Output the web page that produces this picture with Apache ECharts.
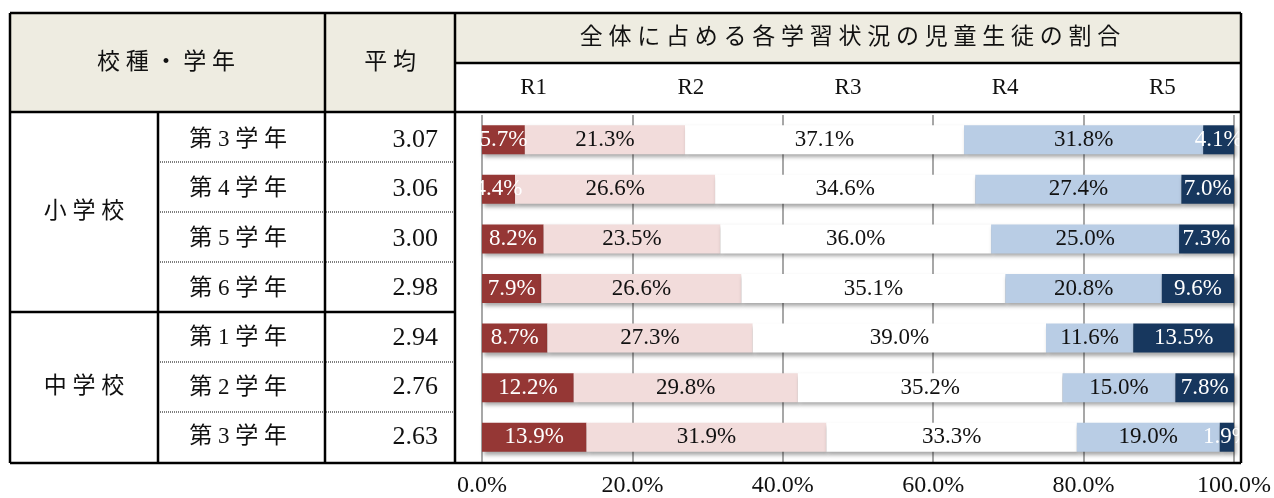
<!DOCTYPE html>
<html>
<head>
<meta charset="utf-8">
<script src="https://cdn.jsdelivr.net/npm/echarts@6/dist/echarts.min.js"></script>
<style>
html, body { margin: 0; padding: 0; background: #fff; }
#chart { width: 1274px; height: 498px; }
</style>
</head>
<body>
<div id="chart"></div>
<script>
// rows of the table, top to bottom
var grades = ['第3学年', '第4学年', '第5学年', '第6学年', '第1学年', '第2学年', '第3学年'];
var averages = [3.07, 3.06, 3.00, 2.98, 2.94, 2.76, 2.63];
var schools = ['小学校', '中学校'];
var schoolRows = [4, 3];
var levels = ['R1', 'R2', 'R3', 'R4', 'R5'];

// share of each level (%)
var r1 = [5.7, 4.4, 8.2, 7.9, 8.7, 12.2, 13.9];
var r2 = [21.3, 26.6, 23.5, 26.6, 27.3, 29.8, 31.9];
var r3 = [37.1, 34.6, 36.0, 35.1, 39.0, 35.2, 33.3];
var r4 = [31.8, 27.4, 25.0, 20.8, 11.6, 15.0, 19.0];
var r5 = [4.1, 7.0, 7.3, 9.6, 13.5, 7.8, 1.9];

var title = '全体に占める各学習状況の児童生徒の割合';
var headGrade = '校種・学年';
var headAvg = '平均';

var colors = ['#953735', '#f2dcdb', '#ffffff', '#b9cde5', '#17375e'];
var labelColors = ['#fff', '#111', '#111', '#111', '#fff'];
var values = [r1, r2, r3, r4, r5];

var JP = '"Liberation Serif", "Noto Sans CJK JP"';
var chart = echarts.init(document.getElementById('chart'));

function spaced(s) {
    return s.split('').join(' ');
}

function line(x1, y1, x2, y2, w, dash) {
    return {
        type: 'line',
        z: 10,
        shape: { x1: x1, y1: y1, x2: x2, y2: y2 },
        style: { stroke: '#000', lineWidth: w || 2.5, lineDash: dash || null }
    };
}

function text(str, x, y, size, align) {
    return {
        type: 'text',
        z: 10,
        x: x,
        y: y,
        style: {
            text: str,
            font: (size || 23) + 'px ' + JP,
            fill: '#111',
            align: align || 'center',
            verticalAlign: 'middle'
        }
    };
}

var L = 10, T = 13, R = 1241, B = 463;
var rowTop = 112, rowH = 50;
var graphics = [
    { type: 'rect', z: -1, shape: { x: L, y: T, width: 455 - L, height: rowTop - T }, style: { fill: '#eeece1' } },
    { type: 'rect', z: -1, shape: { x: 455, y: T, width: R - 455, height: 63 - T }, style: { fill: '#eeece1' } },
    line(L, T, R, T), line(L, B, R, B), line(L, T, L, B), line(R, T, R, B),
    line(L, rowTop, R, rowTop), line(455, 63, R, 63),
    line(325, T, 325, B), line(455, T, 455, B), line(158, rowTop, 158, B),
    text(spaced(headGrade), 166, 63), text(spaced(headAvg), 390, 63),
    text(spaced(title), 850, 38)
];

levels.forEach(function (lv, i) {
    graphics.push(text(lv, 455 + (R - 455) * (i + 0.5) / levels.length, 88, 23));
});

var start = 0;
schools.forEach(function (s, k) {
    var n = schoolRows[k];
    var y0 = rowTop + start * rowH;
    graphics.push(text(spaced(s), 84, y0 + n * rowH / 2));
    for (var j = 1; j < n; j++) {
        graphics.push(line(158, y0 + j * rowH, 455, y0 + j * rowH, 1, [1, 1]));
    }
    if (k > 0) graphics.push(line(L, y0, 455, y0));
    start += n;
});

chart.setOption({
    backgroundColor: '#fff',
    animation: false,
    grid: { left: 482, right: 38.5, top: 115, bottom: 36 },
    xAxis: {
        type: 'value',
        min: 0,
        max: 100,
        interval: 20,
        axisLine: { show: false },
        axisTick: { show: false },
        splitLine: { lineStyle: { color: '#8a8a8a', width: 1.5 } },
        axisLabel: {
            margin: 12,
            color: '#111',
            fontSize: 24,
            fontFamily: 'Liberation Serif',
            formatter: function (v) { return v.toFixed(1) + '%'; }
        }
    },
    yAxis: {
        type: 'category',
        inverse: true,
        data: grades,
        axisLine: { show: false },
        axisTick: { show: false },
        axisLabel: {
            margin: 44,
            formatter: function (v, i) {
                return '{g|' + spaced(grades[i]) + '}{a|' + averages[i].toFixed(2) + '}';
            },
            rich: {
                g: { width: 160, align: 'center', fontSize: 23, fontFamily: JP, color: '#111' },
                a: { width: 120, align: 'right', fontSize: 26, fontFamily: 'Liberation Serif', color: '#111' }
            }
        }
    },
    graphic: graphics,
    series: levels.map(function (lv, i) {
        return {
            name: lv,
            type: 'bar',
            stack: 'total',
            barWidth: 29,
            data: values[i],
            itemStyle: {
                color: colors[i],
                shadowColor: 'rgba(0,0,0,0.35)',
                shadowBlur: 4,
                shadowOffsetX: 2,
                shadowOffsetY: 3
            },
            label: {
                show: true,
                position: 'inside',
                color: labelColors[i],
                fontSize: 23,
                fontFamily: 'Liberation Serif',
                formatter: function (p) { return p.value.toFixed(1) + '%'; }
            }
        };
    })
});

window.addEventListener('resize', function () {
    chart.resize();
});
</script>
</body>
</html>
